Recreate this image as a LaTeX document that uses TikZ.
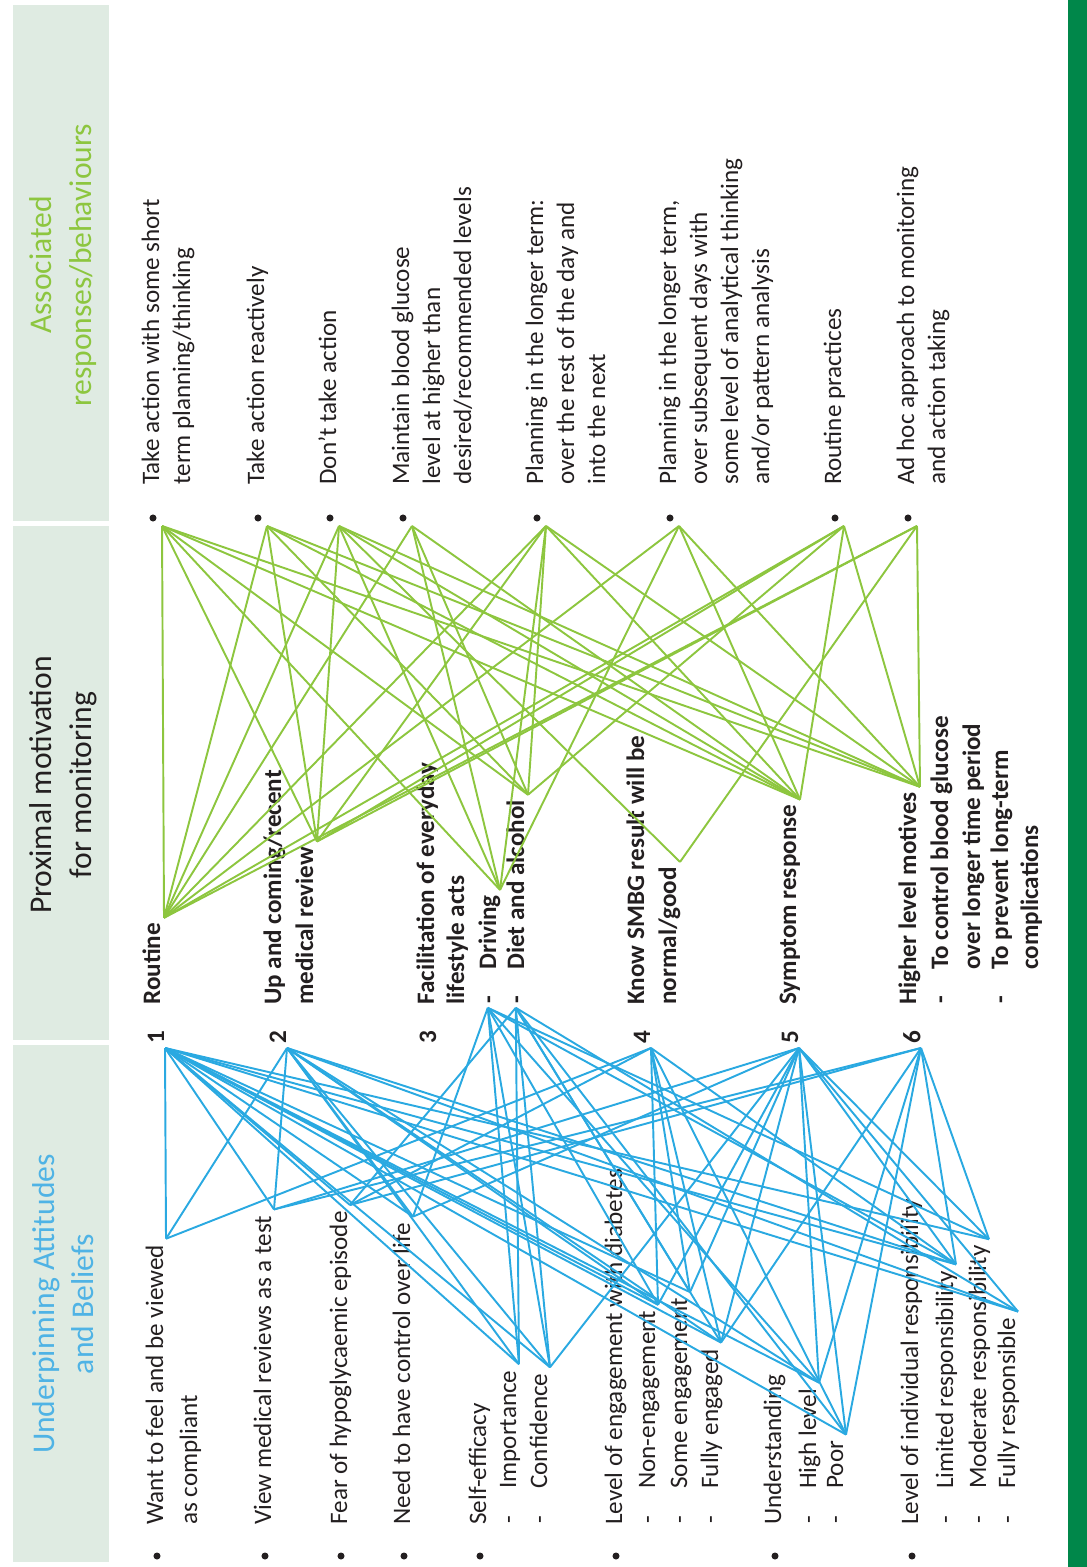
\documentclass[tikz,border=0pt]{standalone}
\usepackage{fontspec}
\setmainfont{Carlito}
\usetikzlibrary{calc}

\definecolor{ink}{HTML}{231F20}
\definecolor{band}{HTML}{DFEBE2}
\definecolor{wireblue}{HTML}{2AA9E1}
\definecolor{wiregreen}{HTML}{8DC63F}
\definecolor{headblue}{HTML}{4FB3E5}
\definecolor{barg}{HTML}{00874A}

\begin{document}
\begin{tikzpicture}[x=0.02cm,y=-0.02cm,
    txt/.style={rotate=90,anchor=base west,inner sep=0pt,text=ink,font=\fontsize{14.3}{17}\selectfont},
    mot/.style={txt,font=\fontsize{14.3}{17}\selectfont\bfseries},
    headtxt/.style={rotate=90,align=center,inner sep=0pt,font=\fontsize{18}{22.5}\selectfont},
    blob/.style={circle,fill=ink,inner sep=0pt,minimum size=4pt},
    bl/.style={draw=wireblue,line width=1.1pt},
    gl/.style={draw=wiregreen,line width=1.1pt}]

   \useasboundingbox (0,0) rectangle (1087,1567);

   % header bands and side bar
   \fill[band] (13,5) rectangle (109,521);
   \fill[band] (13,526) rectangle (109,1040);
   \fill[band] (13,1045) rectangle (109,1562);
   \fill[barg] (1068,0) rectangle (1087,1567);

   \node[headtxt,text=wiregreen] (hresp) at (63,265) {Associated\\responses/behaviours};
   \node[headtxt,text=ink] (hmot) at (63,785) {Proximal motivation\\for monitoring};
   \node[headtxt,text=headblue] (hatt) at (63,1304) {Underpinning Attitudes\\and Beliefs};

   % responses / behaviours
   \node[blob] (rb1) at (153,518) {};
   \node[blob] (rb2) at (258,518) {};
   \node[blob] (rb3) at (330,518) {};
   \node[blob] (rb4) at (403,518) {};
   \node[blob] (rb5) at (537,518) {};
   \node[blob] (rb6) at (670,518) {};
   \node[blob] (rb7) at (835,518) {};
   \node[blob] (rb8) at (908,518) {};
   \node[txt] (resp1a) at (159,485) {Take action with some short};
   \node[txt] (resp1b) at (190,485) {term planning/thinking};
   \node[txt] (resp2a) at (264,485) {Take action reactively};
   \node[txt] (resp3a) at (336,485) {Don't take action};
   \node[txt] (resp4a) at (409,485) {Maintain blood glucose};
   \node[txt] (resp4b) at (440,485) {level at higher than};
   \node[txt] (resp4c) at (471,485) {desired/recommended levels};
   \node[txt] (resp5a) at (543,485) {Planning in the longer term:};
   \node[txt] (resp5b) at (574,485) {over the rest of the day and};
   \node[txt] (resp5c) at (605,485) {into the next};
   \node[txt] (resp6a) at (676,485) {Planning in the longer term,};
   \node[txt] (resp6b) at (707,485) {over subsequent days with};
   \node[txt] (resp6c) at (738,485) {some level of analytical thinking};
   \node[txt] (resp6d) at (769,485) {and/or pattern analysis};
   \node[txt] (resp7a) at (841,485) {Routine practices};
   \node[txt] (resp8a) at (914,485) {Ad hoc approach to monitoring};
   \node[txt] (resp8b) at (945,485) {and action taking};

   % proximal motivation
   \node[mot,anchor=center] (num1) at (156,1037) {1};
   \node[mot,anchor=center] (num2) at (278,1037) {2};
   \node[mot,anchor=center] (num3) at (428,1037) {3};
   \node[mot,anchor=center] (num4) at (642,1037) {4};
   \node[mot,anchor=center] (num5) at (790,1037) {5};
   \node[mot,anchor=center] (num6) at (912,1037) {6};
   \node[mot] (mot1a) at (160,1005) {Routine};
   \node[mot] (mot2a) at (281,1005) {Up and coming/recent};
   \node[mot] (mot2b) at (313,1005) {medical review};
   \node[mot] (mot3a) at (434,1005) {Facilitation of everyday};
   \node[mot] (mot3b) at (464,1005) {lifestyle acts};
   \node[mot] (drvdash) at (496,1004) {-};
   \node[mot] (mot3c) at (496,970) {Driving};
   \node[mot] (dietdash) at (524,1004) {-};
   \node[mot] (mot3d) at (524,970) {Diet and alcohol};
   \node[mot] (mot4a) at (644,1005) {Know SMBG result will be};
   \node[mot] (mot4b) at (676,1005) {normal/good};
   \node[mot] (mot5a) at (796,1005) {Symptom response};
   \node[mot] (mot6a) at (916,1005) {Higher level motives};
   \node[mot] (ctrldash) at (948,1004) {-};
   \node[mot] (mot6b) at (948,970) {To control blood glucose};
   \node[mot] (mot6c) at (980,970) {over longer time period};
   \node[mot] (prevdash) at (1008,1004) {-};
   \node[mot] (mot6d) at (1008,970) {To prevent long-term};
   \node[mot] (mot6e) at (1038,970) {complications};

   % underpinning attitudes and beliefs
   \node[blob] (ab1) at (157,1556) {};
   \node[blob] (ab2) at (265,1556) {};
   \node[blob] (ab3) at (341,1556) {};
   \node[blob] (ab4) at (404,1556) {};
   \node[blob] (ab5) at (480,1556) {};
   \node[blob] (ab6) at (616,1556) {};
   \node[blob] (ab7) at (775,1556) {};
   \node[blob] (ab8) at (912,1556) {};
   \node[txt] (att1a) at (163,1525) {Want to feel and be viewed};
   \node[txt] (att1b) at (197,1525) {as compliant};
   \node[txt] (att2a) at (271,1525) {View medical reviews as a test};
   \node[txt] (att3a) at (347,1525) {Fear of hypoglycaemic episode};
   \node[txt] (att4a) at (410,1525) {Need to have control over life};
   \node[txt] (att5a) at (486,1525) {Self-efficacy};
   \node[txt] (impdash) at (516,1524) {-};
   \node[txt] (att5b) at (516,1489) {Importance};
   \node[txt] (confdash) at (547,1524) {-};
   \node[txt] (att5c) at (547,1489) {Confidence};
   \node[txt] (att6a) at (622,1525) {Level of engagement with diabetes};
   \node[txt] (nondash) at (655,1524) {-};
   \node[txt] (att6b) at (655,1489) {Non-engagement};
   \node[txt] (somedash) at (687,1524) {-};
   \node[txt] (att6c) at (687,1489) {Some engagement};
   \node[txt] (fulldash) at (718,1524) {-};
   \node[txt] (att6d) at (718,1489) {Fully engaged};
   \node[txt] (att7a) at (781,1525) {Understanding};
   \node[txt] (highdash) at (816,1524) {-};
   \node[txt] (att7b) at (816,1489) {High level};
   \node[txt] (poordash) at (843,1524) {-};
   \node[txt] (att7c) at (843,1489) {Poor};
   \node[txt] (att8a) at (918,1525) {Level of individual responsibility};
   \node[txt] (limdash) at (953,1524) {-};
   \node[txt] (att8b) at (953,1489) {Limited responsibility};
   \node[txt] (moddash) at (986,1524) {-};
   \node[txt] (att8c) at (986,1489) {Moderate responsibility};
   \node[txt] (fresdash) at (1015,1524) {-};
   \node[txt] (att8d) at (1015,1489) {Fully responsible};

   % line ends
   \coordinate (r1) at ($(rb1)+(9,8)$);
   \coordinate (r2) at ($(rb2)+(9,8)$);
   \coordinate (r3) at ($(rb3)+(9,8)$);
   \coordinate (r4) at ($(rb4)+(9,8)$);
   \coordinate (r5) at ($(rb5)+(9,8)$);
   \coordinate (r6) at ($(rb6)+(9,8)$);
   \coordinate (r7) at ($(rb7)+(9,8)$);
   \coordinate (r8) at ($(rb8)+(9,8)$);
   \coordinate (m1) at ($(mot1a.base east)+(4,-5)$);
   \coordinate (m2) at ($(mot2b.base east)+(4,-5)$);
   \coordinate (mdr) at ($(mot3c.base east)+(4,-5)$);
   \coordinate (mdi) at ($(mot3d.base east)+(4,-5)$);
   \coordinate (m4) at ($(mot4b.base east)+(4,-5)$);
   \coordinate (m5) at ($(mot5a.base east)+(4,-5)$);
   \coordinate (m6) at ($(mot6a.base east)+(4,-5)$);
   \coordinate (n1) at ($(num1)+(9,11)$);
   \coordinate (n2) at ($(num2)+(9,11)$);
   \coordinate (ndr) at ($(drvdash)+(-4,8)$);
   \coordinate (ndi) at ($(dietdash)+(-4,8)$);
   \coordinate (n4) at ($(num4)+(9,11)$);
   \coordinate (n5) at ($(num5)+(9,11)$);
   \coordinate (n6) at ($(num6)+(9,11)$);
   \coordinate (a1) at ($(att1a.base east)+(3,-6)$);
   \coordinate (a2) at ($(att2a.base east)+(3,-6)$);
   \coordinate (a3) at ($(att3a.base east)+(3,-6)$);
   \coordinate (a4) at ($(att4a.base east)+(3,-6)$);
   \coordinate (aimp) at ($(att5b.base east)+(3,-6)$);
   \coordinate (aconf) at ($(att5c.base east)+(3,-6)$);
   \coordinate (anon) at ($(att6b.base east)+(3,-6)$);
   \coordinate (asome) at ($(att6c.base east)+(3,-6)$);
   \coordinate (afull) at ($(att6d.base east)+(3,-6)$);
   \coordinate (ahigh) at ($(att7b.base east)+(3,-6)$);
   \coordinate (apoor) at ($(att7c.base east)+(3,-6)$);
   \coordinate (alim) at ($(att8b.base east)+(3,-6)$);
   \coordinate (amod) at ($(att8c.base east)+(3,-6)$);
   \coordinate (afres) at ($(att8d.base east)+(3,-6)$);

   % motivation -> responses
   \path (m1) edge[gl] (r1);
   \path (m1) edge[gl] (r2);
   \path (m1) edge[gl] (r3);
   \path (m1) edge[gl] (r4);
   \path (m1) edge[gl] (r5);
   \path (m1) edge[gl] (r6);
   \path (m1) edge[gl] (r7);
   \path (m1) edge[gl] (r8);
   \path (m2) edge[gl] (r1);
   \path (m2) edge[gl] (r2);
   \path (m2) edge[gl] (r3);
   \path (m2) edge[gl] (r5);
   \path (m2) edge[gl] (r7);
   \path (m2) edge[gl] (r8);
   \path (mdr) edge[gl] (r1);
   \path (mdr) edge[gl] (r3);
   \path (mdr) edge[gl] (r4);
   \path (mdr) edge[gl] (r5);
   \path (mdr) edge[gl] (r6);
   \path (mdi) edge[gl] (r1);
   \path (mdi) edge[gl] (r2);
   \path (mdi) edge[gl] (r4);
   \path (mdi) edge[gl] (r5);
   \path (mdi) edge[gl] (r7);
   \path (m4) edge[gl] (r3);
   \path (m4) edge[gl] (r8);
   \path (m5) edge[gl] (r1);
   \path (m5) edge[gl] (r2);
   \path (m5) edge[gl] (r3);
   \path (m5) edge[gl] (r4);
   \path (m5) edge[gl] (r5);
   \path (m5) edge[gl] (r6);
   \path (m5) edge[gl] (r7);
   \path (m6) edge[gl] (r1);
   \path (m6) edge[gl] (r2);
   \path (m6) edge[gl] (r3);
   \path (m6) edge[gl] (r5);
   \path (m6) edge[gl] (r6);
   \path (m6) edge[gl] (r7);
   \path (m6) edge[gl] (r8);

   % attitudes -> motivation
   \path (a1) edge[bl] (n1);
   \path (a2) edge[bl] (n1);
   \path (a3) edge[bl] (n1);
   \path (a4) edge[bl] (n1);
   \path (aimp) edge[bl] (n1);
   \path (aconf) edge[bl] (n1);
   \path (anon) edge[bl] (n1);
   \path (asome) edge[bl] (n1);
   \path (afull) edge[bl] (n1);
   \path (ahigh) edge[bl] (n1);
   \path (apoor) edge[bl] (n1);
   \path (alim) edge[bl] (n1);
   \path (amod) edge[bl] (n1);
   \path (afres) edge[bl] (n1);
   \path (a1) edge[bl] (n2);
   \path (a2) edge[bl] (n2);
   \path (a4) edge[bl] (n2);
   \path (aimp) edge[bl] (n2);
   \path (aconf) edge[bl] (n2);
   \path (anon) edge[bl] (n2);
   \path (afull) edge[bl] (n2);
   \path (ahigh) edge[bl] (n2);
   \path (alim) edge[bl] (n2);
   \path (afres) edge[bl] (n2);
   \path (a4) edge[bl] (ndr);
   \path (aimp) edge[bl] (ndr);
   \path (aconf) edge[bl] (ndr);
   \path (anon) edge[bl] (ndr);
   \path (ahigh) edge[bl] (ndr);
   \path (alim) edge[bl] (ndr);
   \path (amod) edge[bl] (ndr);
   \path (a3) edge[bl] (ndi);
   \path (aimp) edge[bl] (ndi);
   \path (aconf) edge[bl] (ndi);
   \path (asome) edge[bl] (ndi);
   \path (afull) edge[bl] (ndi);
   \path (apoor) edge[bl] (ndi);
   \path (afres) edge[bl] (ndi);
   \path (a1) edge[bl] (n4);
   \path (a3) edge[bl] (n4);
   \path (anon) edge[bl] (n4);
   \path (asome) edge[bl] (n4);
   \path (afull) edge[bl] (n4);
   \path (apoor) edge[bl] (n4);
   \path (alim) edge[bl] (n4);
   \path (a2) edge[bl] (n5);
   \path (a4) edge[bl] (n5);
   \path (aconf) edge[bl] (n5);
   \path (anon) edge[bl] (n5);
   \path (asome) edge[bl] (n5);
   \path (afull) edge[bl] (n5);
   \path (ahigh) edge[bl] (n5);
   \path (apoor) edge[bl] (n5);
   \path (alim) edge[bl] (n5);
   \path (amod) edge[bl] (n5);
   \path (afres) edge[bl] (n5);
   \path (a2) edge[bl] (n6);
   \path (a3) edge[bl] (n6);
   \path (afull) edge[bl] (n6);
   \path (ahigh) edge[bl] (n6);
   \path (apoor) edge[bl] (n6);
   \path (alim) edge[bl] (n6);
   \path (amod) edge[bl] (n6);

\end{tikzpicture}
\end{document}
